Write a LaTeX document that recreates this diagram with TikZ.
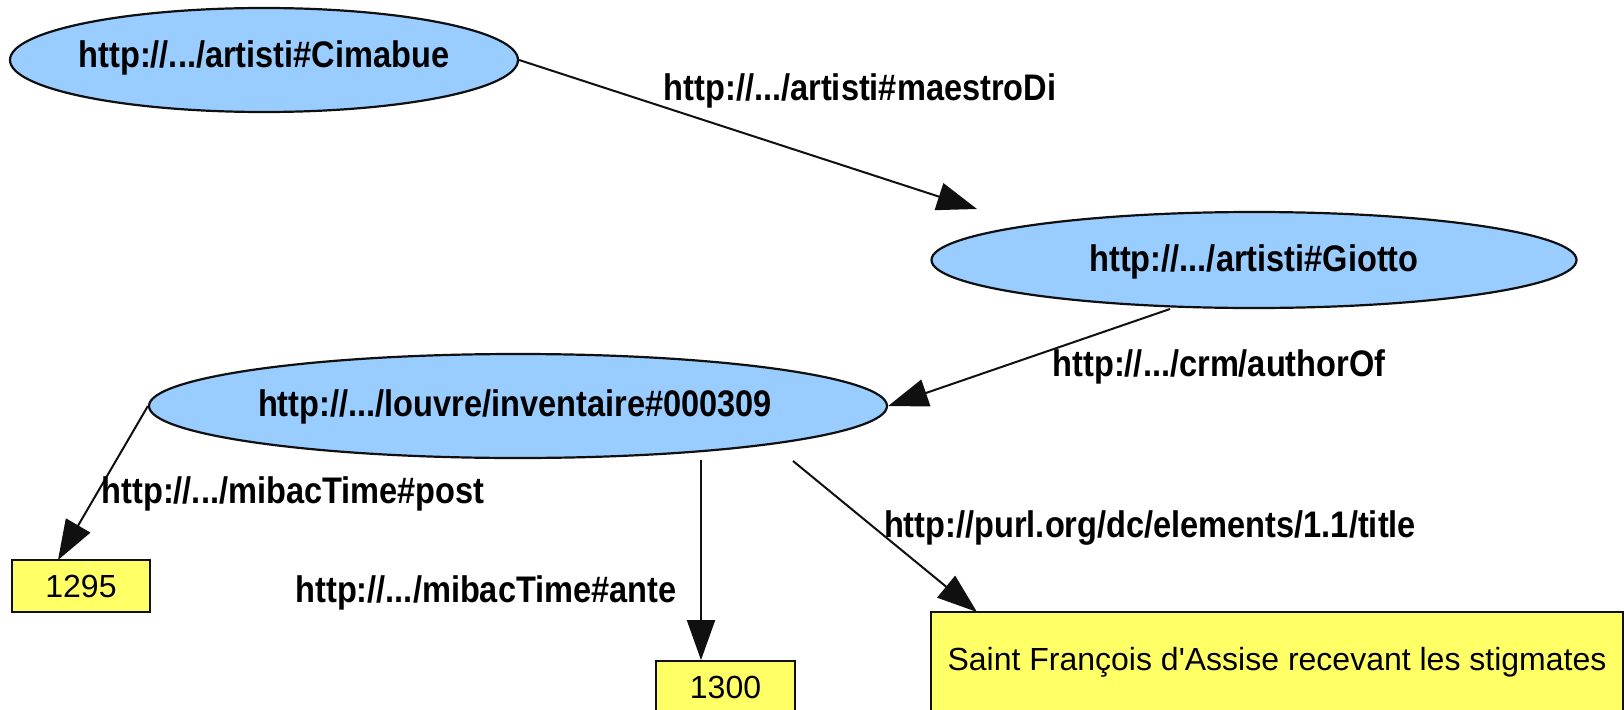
\documentclass[tikz,border=0pt]{standalone}
\usepackage{fontspec}
\setmainfont{Liberation Sans}[Ligatures=TeXOff]
\newfontfamily\lblfont{Liberation Sans}[FakeStretch=0.88]
\usetikzlibrary{arrows.meta,shapes.geometric}
\definecolor{resblue}{HTML}{99CCFF}
\definecolor{lityellow}{HTML}{FFFF66}
\definecolor{ink}{HTML}{101010}
\begin{document}
\begin{tikzpicture}[x=1pt,y=-1pt,
  res/.style={ellipse,draw=ink,line width=2.2pt,fill=resblue,inner sep=0pt,
    font=\lblfont\fontsize{37}{40}\selectfont\bfseries},
  lit/.style={rectangle,draw=ink,line width=1.8pt,fill=lityellow,inner sep=0pt,
    font=\fontsize{32}{36}\selectfont},
  lbl/.style={inner sep=0pt,font=\lblfont\fontsize{37}{40}\selectfont\bfseries},
  rel/.style={draw=ink,line width=2pt,-{Triangle[length=40pt,width=28pt]}}]
\useasboundingbox[fill=white] (0,0) rectangle (1624,709);

% resources
\node[res,minimum width=508pt,minimum height=104pt] (cim) at (264,60) {};
\node[lbl] (cimt) at (264,58) {http://.../artisti\#Cimabue};
\node[res,minimum width=645pt,minimum height=96pt] (gio) at (1254,260) {};
\node[lbl] (giot) at (1254,262) {http://.../artisti\#Giotto};
\node[res,minimum width=738pt,minimum height=104pt] (lou) at (518,406) {};
\node[lbl] (lout) at (515,407) {http://.../louvre/inventaire\#000309};

% literals
\node[lit,minimum width=138pt,minimum height=52pt] (y1295) at (81,586) {1295};
\node[lit,minimum width=139pt,minimum height=52pt] (y1300) at (725.5,687) {1300};
\node[lit,minimum width=692pt,minimum height=100pt] (title) at (1277,662)
  {Saint François d'Assise recevant les stigmates};

% free ends
\coordinate (mEnd) at (977,209);
\coordinate (aStart) at (1170,309);
\coordinate (anteStart) at (701,460);
\coordinate (titStart) at (793,461);
\coordinate (titEnd) at (977,612);
\coordinate (postEnd) at (58,560);

% connectors
\draw[rel] (cim.east) -- (mEnd);
\draw[rel] (aStart) -- (lou.east);
\draw[rel] (lou.west) -- (postEnd);
\draw[rel] (anteStart) -- (anteStart |- y1300.north);
\draw[rel] (titStart) -- (titEnd);

% labels
\node[lbl] (lm) at (860,91) {http://.../artisti\#maestroDi};
\node[lbl] (la) at (1219,367) {http://.../crm/authorOf};
\node[lbl] (lp) at (293,494) {http://.../mibacTime\#post};
\node[lbl] (lan) at (486,593) {http://.../mibacTime\#ante};
\node[lbl] (lt) at (1150,528) {http://purl.org/dc/elements/1.1/title};
\end{tikzpicture}
\end{document}
